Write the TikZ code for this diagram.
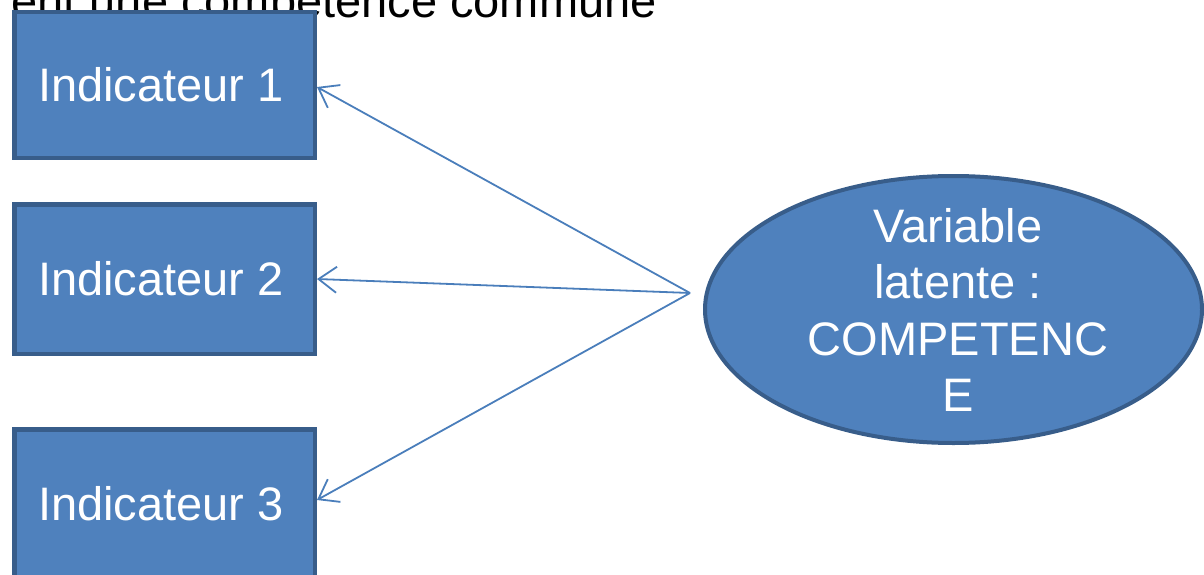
\documentclass[tikz,border=0pt]{standalone}
\usepackage{fontspec}
\setmainfont{Liberation Sans}
\usetikzlibrary{arrows.meta,shapes.geometric}
\definecolor{boxfill}{HTML}{4F81BD}
\definecolor{boxline}{HTML}{385D8A}
\definecolor{arrline}{HTML}{4A7EBB}
\tikzset{
  indbox/.style={draw=boxline, fill=boxfill, line width=4.5pt, minimum width=300.5pt, inner sep=0pt,
    text=white, font=\fontsize{47}{56}\selectfont},
  latent/.style={draw=boxline, fill=boxfill, line width=4pt, ellipse, minimum width=497pt, minimum height=267pt, inner sep=0pt},
  latenttext/.style={text=white, align=center, font=\fontsize{47}{56.3}\selectfont, inner sep=0pt},
  link/.style={draw=arrline, line width=1.8pt, -{Straight Barb[length=18pt,width=26pt,line width=1.8pt]}},
}
\begin{document}
\begin{tikzpicture}[x=1pt,y=-1pt]
\useasboundingbox (0,0) rectangle (1204,575);
\node[anchor=base east, inner sep=0pt, font=\fontsize{47}{56}\selectfont] (title) at (657,18) {ent une compétence commune};
\node[indbox, minimum height=145.5pt] (b1) at (164.5,85) {Indicateur 1\kern7pt};
\node[indbox, minimum height=149.5pt] (b2) at (164.5,279) {Indicateur 2\kern7pt};
\node[indbox, minimum height=149.5pt] (b3) at (164.5,504) {Indicateur 3\kern7pt};
\node[latent] (comp) at (953.5,309.5) {};
\node[latenttext] (comptext) at (958,310) {Variable\\latente :\\COMPETENC\\E};
\coordinate (hub) at (690,293);
\draw[link] (hub) -- ([yshift=-2pt]b1.east);
\draw[link] (hub) -- (b2.east);
\draw[link] (hub) -- ([yshift=4pt]b3.east);
\end{tikzpicture}
\end{document}
